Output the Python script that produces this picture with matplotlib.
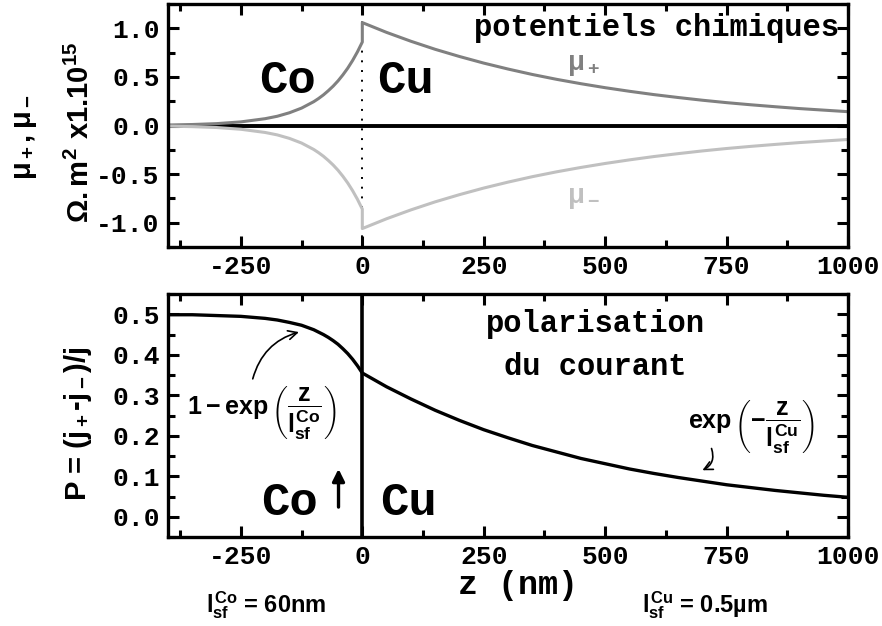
import matplotlib

matplotlib.use("Agg")
import matplotlib.pyplot as plt
from matplotlib.ticker import MultipleLocator, FormatStrFormatter

# values (z in nm)
z_co = [-400, -350, -300, -250, -200, -175, -150, -125, -100, -90, -80,
        -70, -60, -50, -40, -30, -20, -10, 0]
z_cu = [0, 50, 100, 150, 200, 250, 300, 350, 400, 450, 500, 550, 600,
        650, 700, 750, 800, 850, 900, 950, 1000]

mu_plus_co = [0.006, 0.011, 0.020, 0.038, 0.071, 0.096, 0.132, 0.180, 0.246,
              0.279, 0.316, 0.359, 0.406, 0.460, 0.522, 0.591, 0.670, 0.759, 0.860]
mu_plus_cu = [1.060, 0.959, 0.868, 0.785, 0.711, 0.643, 0.582, 0.526, 0.476,
              0.431, 0.390, 0.353, 0.319, 0.289, 0.261, 0.236, 0.214, 0.194,
              0.175, 0.159, 0.143]
mu_minus_co = [-0.006, -0.011, -0.020, -0.038, -0.071, -0.096, -0.132, -0.180,
               -0.246, -0.279, -0.316, -0.359, -0.406, -0.460, -0.522, -0.591,
               -0.670, -0.759, -0.860]
mu_minus_cu = [-1.060, -0.959, -0.868, -0.785, -0.711, -0.643, -0.582, -0.526,
               -0.476, -0.431, -0.390, -0.353, -0.319, -0.289, -0.261, -0.236,
               -0.214, -0.194, -0.175, -0.159, -0.143]

pol_co = [0.499, 0.499, 0.497, 0.495, 0.490, 0.486, 0.480, 0.473, 0.462, 0.456,
          0.450, 0.443, 0.435, 0.426, 0.415, 0.403, 0.389, 0.373, 0.355]
pol_cu = [0.355, 0.321, 0.291, 0.263, 0.238, 0.215, 0.195, 0.176, 0.160, 0.144,
          0.131, 0.118, 0.107, 0.097, 0.088, 0.079, 0.072, 0.065, 0.059, 0.053,
          0.048]

xticks = [-250, 0, 250, 500, 750, 1000]

MONO = "Liberation Mono"
SANS = "Liberation Sans"
plt.rcParams["axes.unicode_minus"] = False
plt.rcParams["mathtext.fontset"] = "custom"
plt.rcParams["mathtext.rm"] = "Liberation Sans:bold"
plt.rcParams["mathtext.it"] = "Liberation Sans:bold"
plt.rcParams["mathtext.bf"] = "Liberation Sans:bold"
plt.rcParams["mathtext.sf"] = "Liberation Sans:bold"

fig = plt.figure(figsize=(8.82, 6.26), dpi=100)
ax1 = fig.add_axes([0.1905, 0.6054, 0.771, 0.388])
ax2 = fig.add_axes([0.1905, 0.1422, 0.771, 0.388])


def style(ax, ylo, yhi, ymaj, ymin):
    ax.set_xlim(-400, 1000)
    ax.set_ylim(ylo, yhi)
    ax.set_xticks(xticks)
    ax.xaxis.set_minor_locator(MultipleLocator(125))
    ax.yaxis.set_major_locator(MultipleLocator(ymaj))
    ax.yaxis.set_minor_locator(MultipleLocator(ymin))
    ax.yaxis.set_major_formatter(FormatStrFormatter("%.1f"))
    ax.tick_params(which="both", direction="in", top=True, right=True, width=2.2)
    ax.tick_params(which="major", length=8, pad=6)
    ax.tick_params(which="minor", length=5)
    for sp in ax.spines.values():
        sp.set_linewidth(2.4)
    for lab in ax.get_xticklabels() + ax.get_yticklabels():
        lab.set_fontfamily(MONO)
        lab.set_fontweight("bold")
        lab.set_fontsize(19)


# top panel: chemical potentials
ax1.axhline(0, color="black", lw=2.8, zorder=1)
ax1.axvline(0, color="black", lw=1.4, ls=(0, (1, 4)), zorder=1)
ax1.plot(z_co + z_cu, mu_plus_co + mu_plus_cu, color="#808080", lw=2.2, zorder=2)
ax1.plot(z_co + z_cu, mu_minus_co + mu_minus_cu, color="#c0c0c0", lw=2.2, zorder=2)
style(ax1, -1.25, 1.25, 0.5, 0.25)

ax1.text(-155, 0.46, "Co", family=MONO, weight="bold", size=34, ha="center", va="center")
ax1.text(88, 0.46, "Cu", family=MONO, weight="bold", size=34, ha="center", va="center")
ax1.text(605, 1.0, "potentiels chimiques", family=MONO, weight="bold", size=22,
         ha="center", va="center")
ax1.text(455, 0.63, r"$\mu_+$", size=20, color="#808080", ha="center", va="center")
ax1.text(455, -0.74, r"$\mu_-$", size=20, color="#c0c0c0", ha="center", va="center")

# bottom panel: current polarisation
ax2.axvline(0, color="black", lw=2.6, zorder=1)
ax2.plot(z_co + z_cu, pol_co + pol_cu, color="black", lw=2.4, zorder=2)
style(ax2, -0.05, 0.55, 0.1, 0.05)

ax2.text(-150, 0.035, "Co", family=MONO, weight="bold", size=34, ha="center", va="center")
ax2.text(96, 0.035, "Cu", family=MONO, weight="bold", size=34, ha="center", va="center")
ax2.text(480, 0.475, "polarisation", family=MONO, weight="bold", size=22,
         ha="center", va="center")
ax2.text(480, 0.369, "du courant", family=MONO, weight="bold", size=22,
         ha="center", va="center")
ax2.annotate("", xy=(-49, 0.125), xytext=(-49, 0.017),
             arrowprops=dict(arrowstyle="-|>", color="black", lw=2.4,
                             mutation_scale=18))
ax2.text(-207, 0.257, r"$1-\exp\left(\dfrac{z}{l_{sf}^{Co}}\right)$", size=18,
         ha="center", va="center")
ax2.text(800, 0.223, r"$\exp\left(-\dfrac{z}{l_{sf}^{Cu}}\right)$", size=18,
         ha="center", va="center")
ax2.annotate("", xy=(-125, 0.458), xytext=(-227, 0.334),
             arrowprops=dict(arrowstyle="->", color="black", lw=1.2,
                             connectionstyle="arc3,rad=-0.3", mutation_scale=16))
ax2.annotate("", xy=(695, 0.112), xytext=(717, 0.175),
             arrowprops=dict(arrowstyle="->", color="black", lw=1.2,
                             connectionstyle="arc3,rad=-0.5", mutation_scale=15))

# axis labels
fig.text(0.028, 0.781, r"$\mu_+,\mu_-$", size=21, rotation=90, ha="center", va="center")
fig.text(0.091, 0.788, r"$\Omega.m^2$ x1.10$^{15}$", family=SANS, weight="bold",
         size=21, rotation=90, ha="center", va="center")
fig.text(0.088, 0.323, r"P = (j$_+$-j$_-$)/j", family=SANS, weight="bold", size=21,
         rotation=90, ha="center", va="center")
fig.text(0.587, 0.064, "z (nm)", family=MONO, weight="bold", size=24,
         ha="center", va="center")
fig.text(0.302, 0.034, r"$l_{sf}^{Co}$ = 60nm", family=SANS, weight="bold", size=17,
         ha="center", va="center")
fig.text(0.799, 0.034, r"$l_{sf}^{Cu}$ = 0.5µm", family=SANS, weight="bold", size=17,
         ha="center", va="center")

fig.savefig("out.png", dpi=100)
plt.close(fig)
